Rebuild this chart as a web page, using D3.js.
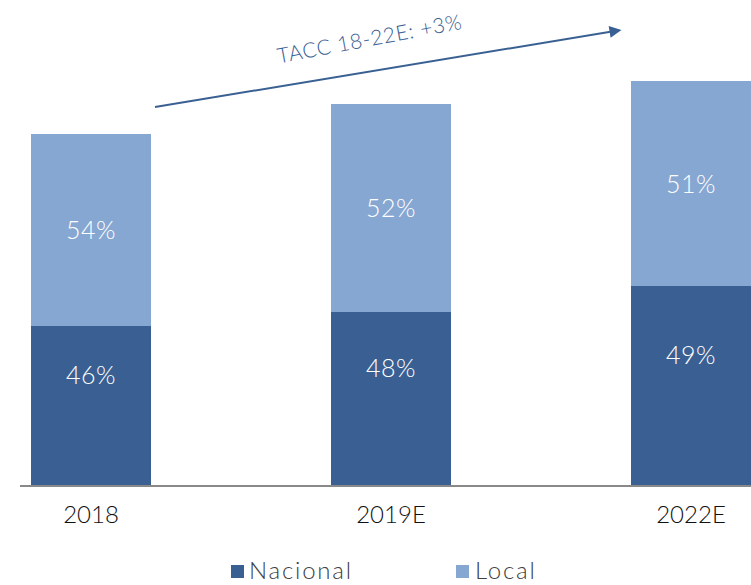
<!DOCTYPE html>
<html>
<head>
<meta charset="utf-8">
<script src="https://cdn.jsdelivr.net/npm/d3@7"></script>
<style>
  html, body { margin: 0; padding: 0; background: #ffffff; }
  svg { display: block; }
  text { font-family: "Lato", "Open Sans", "DejaVu Sans", sans-serif; font-weight: 300; }
</style>
</head>
<body>
<div id="chart"></div>
<script>
// ---- data ----
const categories = ["2018", "2019E", "2022E"];
const seriesNames = ["Nacional", "Local"];
const nacional = [160, 174, 200];
const local = [192, 208, 205];
const nacionalLabels = ["46%", "48%", "49%"];
const localLabels = ["54%", "52%", "51%"];
const growthLabel = "TACC 18-22E: +3%";

// ---- layout ----
const W = 751, H = 585;
const baseY = 486;
const colors = { Nacional: "#3A6093", Local: "#86A7D2" };

const svg = d3.select("#chart").append("svg")
  .attr("width", W).attr("height", H);

const x = d3.scaleBand()
  .domain(categories)
  .range([-59, 841])
  .paddingInner(0.6)
  .paddingOuter(0.3);

const y = d3.scaleLinear()
  .domain([0, 486])
  .range([baseY, 0]);

const rows = categories.map((c, i) => ({ cat: c, Nacional: nacional[i], Local: local[i], i }));
const stack = d3.stack().keys(seriesNames)(rows);

const labelsBySeries = { Nacional: nacionalLabels, Local: localLabels };
const labelOffset = { Nacional: -31, Local: 0 };

// bars
const g = svg.append("g");
stack.forEach(layer => {
  g.selectAll(null).data(layer).enter().append("rect")
    .attr("x", d => x(d.data.cat))
    .attr("width", x.bandwidth())
    .attr("y", d => y(d[1]))
    .attr("height", d => y(d[0]) - y(d[1]))
    .attr("fill", colors[layer.key]);
});

// value labels
stack.forEach(layer => {
  g.selectAll(null).data(layer).enter().append("text")
    .attr("x", d => x(d.data.cat) + x.bandwidth() / 2)
    .attr("y", d => (y(d[0]) + y(d[1])) / 2 + labelOffset[layer.key] + 9)
    .attr("text-anchor", "middle")
    .attr("font-size", 25)
    .attr("letter-spacing", 0.5)
    .attr("fill", "#ffffff")
    .text(d => labelsBySeries[layer.key][d.data.i]);
});

// axis
const axis = svg.append("g")
  .attr("transform", `translate(0,${baseY})`)
  .call(d3.axisBottom(x).tickSize(0).tickPadding(0));
axis.select(".domain").remove();
axis.selectAll("text")
  .attr("y", 37)
  .attr("dy", 0)
  .attr("font-size", 24)
  .attr("font-family", "Lato, 'Open Sans', sans-serif")
  .attr("font-weight", 400)
  .attr("fill", "#111111");
svg.append("line")
  .attr("x1", 20).attr("x2", W)
  .attr("y1", baseY).attr("y2", baseY)
  .attr("stroke", "#898989").attr("stroke-width", 2);

// growth arrow
const defs = svg.append("defs");
defs.append("marker")
  .attr("id", "arrowhead")
  .attr("viewBox", "0 0 10 10")
  .attr("refX", 2).attr("refY", 5)
  .attr("markerWidth", 7).attr("markerHeight", 6)
  .attr("markerUnits", "strokeWidth")
  .attr("orient", "auto")
  .append("path")
  .attr("d", "M0,0 L10,5 L0,10 Z")
  .attr("fill", "#3A6093");

svg.append("line")
  .attr("x1", 155).attr("y1", 107)
  .attr("x2", 612).attr("y2", 31.5)
  .attr("stroke", "#3A6093").attr("stroke-width", 2)
  .attr("marker-end", "url(#arrowhead)");

svg.append("text")
  .attr("transform", "translate(371,46) rotate(-10.7)")
  .attr("text-anchor", "middle")
  .attr("font-size", 21)
  .attr("letter-spacing", 0.6)
  .attr("fill", "#3A6093")
  .text(growthLabel);

// legend
const legendPos = [{ sx: 231, tx: 249 }, { sx: 456, tx: 475 }];
const legend = svg.append("g");
seriesNames.forEach((s, i) => {
  legend.append("rect")
    .attr("x", legendPos[i].sx).attr("y", 565)
    .attr("width", 13).attr("height", 13)
    .attr("fill", colors[s]);
  legend.append("text")
    .attr("x", legendPos[i].tx).attr("y", 579)
    .attr("font-size", 24)
    .attr("font-weight", 400)
    .attr("letter-spacing", 1.8)
    .attr("fill", "#404040")
    .text(s);
});
</script>
</body>
</html>
